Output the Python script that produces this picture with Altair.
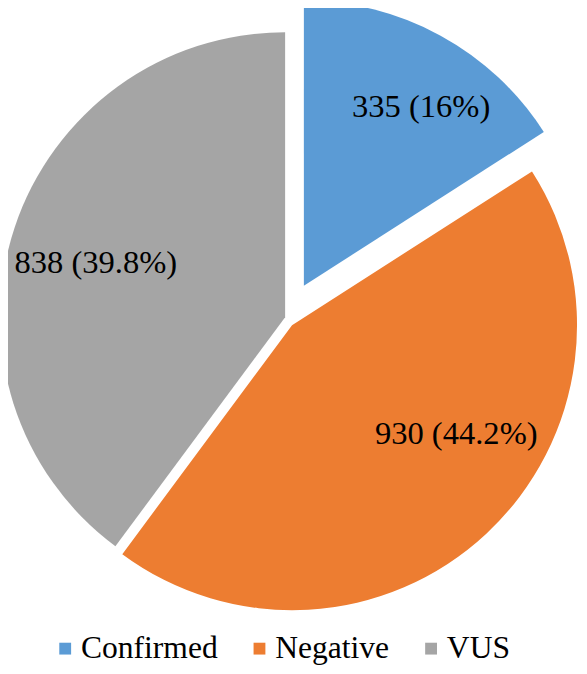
import altair as alt
import pandas as pd

# ---- data ----
categories = ["Confirmed", "Negative", "VUS"]
counts = [335, 930, 838]
percent_labels = ["16", "44.2", "39.8"]
slice_order = [0, 1, 2]

# ---- styling / layout (kept apart from data) ----
colors = ["#5B9BD5", "#ED7D31", "#A5A5A5"]
RADIUS = 289
# pie centre for each slice (exploded slices are shifted)
centers = {"Confirmed": (300, 277), "Negative": (288, 317), "VUS": (281, 309)}
label_radius = 200
label_shift = {"Confirmed": (23, -6), "Negative": (30, -36), "VUS": (-2, 8)}
FONT = "'Liberation Serif', 'DejaVu Serif', serif"

df = pd.DataFrame({
    "category": categories,
    "count": counts,
    "pct": percent_labels,
    "order": slice_order,
})
total = int(sum(counts))

base = alt.Chart(df).transform_window(
    cum="sum(count)", sort=[alt.SortField("order")], frame=[None, 0]
).transform_calculate(
    start="datum.cum - datum.count",
    mid="datum.cum - datum.count / 2",
    label="datum.count + ' (' + datum.pct + '%)'",
)

theta_scale = alt.Scale(domain=[0, total])
color = alt.Color(
    "category:N",
    scale=alt.Scale(domain=categories, range=colors),
    legend=alt.Legend(
        title=None,
        orient="none",
        direction="horizontal",
        legendX=42,
        legendY=629,
        symbolType="square",
        symbolSize=144,
        symbolStrokeWidth=0,
        labelFont=FONT,
        labelFontSize=32,
        labelColor="black",
        labelOffset=0,
        columnPadding=26,
        padding=0,
    ),
)

layers = []
for cat in categories:
    cx, cy = centers[cat]
    dx, dy = label_shift[cat]
    sub = base.transform_filter(alt.datum.category == cat)
    arc = sub.mark_arc(outerRadius=RADIUS).encode(
        theta=alt.Theta("start:Q", stack=None, scale=theta_scale),
        theta2="cum:Q",
        color=color,
        x=alt.value(cx),
        y=alt.value(cy),
    )
    txt = sub.mark_text(
        radius=label_radius, dx=dx, dy=dy, font=FONT, fontSize=33,
        color="black", align="center", baseline="middle",
    ).encode(
        theta=alt.Theta("mid:Q", stack=None, scale=theta_scale),
        text="label:N",
        x=alt.value(cx),
        y=alt.value(cy),
    )
    layers += [arc, txt]

chart = alt.layer(*layers).properties(
    width=579,
    height=658,
    autosize=alt.AutoSizeParams(type="none"),
    padding=0,
    background="white",
).configure_view(stroke=None)

chart.save("out.html", embed_options={"renderer": "svg", "actions": False})
